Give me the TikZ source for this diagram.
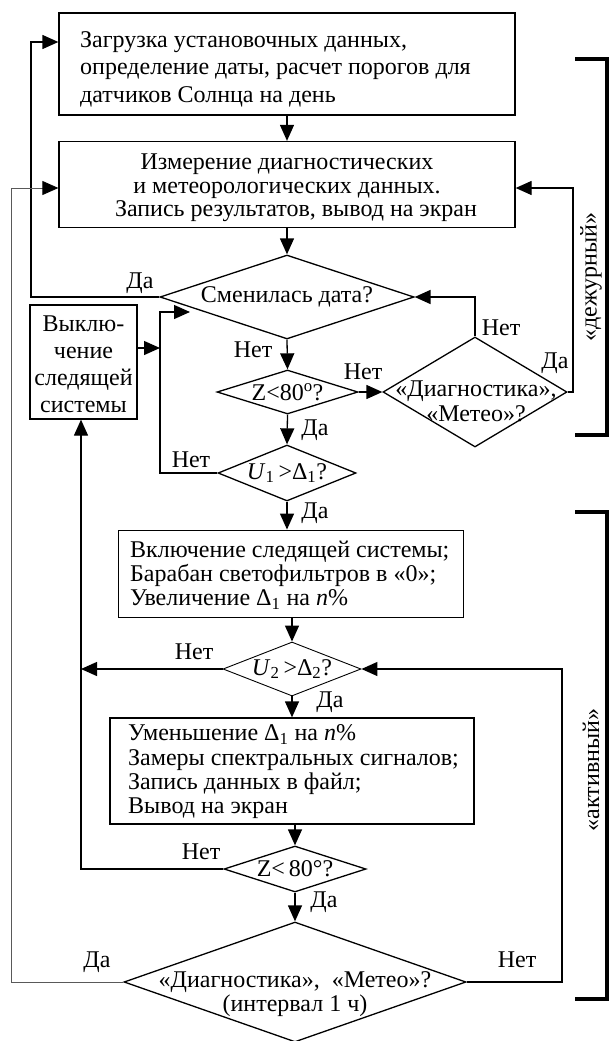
\documentclass[tikz,border=0pt]{standalone}
\usepackage{fontspec}
\setmainfont{Liberation Serif}
\usetikzlibrary{shapes.geometric,arrows.meta}
\begin{document}
\begin{tikzpicture}[x=1pt,y=-1pt,
  ln/.style={line width=1.3pt},
  arr/.style={ln,-{Triangle[length=16pt,width=14pt]}},
  box/.style={draw,ln,rectangle,inner sep=0pt},
  dia/.style={draw,ln,diamond,inner sep=0pt},
  txt/.style={inner sep=0pt,font=\fontsize{24}{27}\selectfont,align=center},
  lbl/.style={inner sep=0pt,font=\fontsize{24}{27}\selectfont},
  brk/.style={line width=4pt},
  grayline/.style={line width=0.8pt,draw=gray!70!black,-{Triangle[length=16pt,width=14pt,color=black,fill=black]}}
]
\useasboundingbox (0,0) rectangle (610,1041);
% routing coordinates
\coordinate (xa) at (31,0);
\coordinate (xg) at (11,0);
\coordinate (xv) at (160,0);
\coordinate (xz) at (81,0);
\coordinate (xr) at (573,0);
\coordinate (xn) at (562,0);
\coordinate (in1) at (190,312);

% boxes and diamonds
\node[box,minimum width=456pt,minimum height=102pt] (b1) at (287,64) {};
\node[lbl,anchor=west,align=left,font=\fontsize{24}{27.5}\selectfont] (t1) at (80,69) {Загрузка установочных данных,\\определение даты, расчет порогов для\\датчиков Солнца на день};

\node[box,minimum width=456pt,minimum height=86pt] (b2) at (287,184.5) {};
\node[txt,font=\fontsize{24}{23.5}\selectfont] (t2) at (287,188) {Измерение диагностических\\и метеорологических данных.\\\hspace*{18pt}Запись результатов, вывод на экран};

\node[dia,minimum width=254pt,minimum height=84pt] (d1) at (287,297) {};
\node[txt] (t3) at (d1) {Сменилась дата?};

\node[box,minimum width=107pt,minimum height=114pt] (bv) at (83.5,362) {};
\node[txt] (t4) at ([yshift=-2pt]bv.center) {Выклю-\\чение\\следящей\\системы};

\node[dia,minimum width=141pt,minimum height=44pt] (d2) at (287.5,392) {};
\node[txt] (t5) at (d2) {Z<80\textsuperscript{o}?};

\node[dia,minimum width=184pt,minimum height=110pt] (d3) at (475,392) {};
\node[txt,font=\fontsize{24}{25}\selectfont] (t6) at (476,401) {«Диагностика»,\\«Метео»?};

\node[dia,minimum width=138pt,minimum height=56pt] (d4) at (287,473) {};
\node[txt] (t7) at (d4) {\textit{U}\textsubscript{1}\,>Δ\textsubscript{1}?};

\node[box,line width=0.9pt,minimum width=345pt,minimum height=87pt] (b3) at (290.5,573.5) {};
\node[lbl,anchor=west,align=left,font=\fontsize{24}{24}\selectfont] (t8) at (130,575) {Включение следящей системы;\\Барабан светофильтров в «0»;\\Увеличение Δ\textsubscript{1} на \textit{n}\%};

\node[dia,line width=0.9pt,minimum width=138pt,minimum height=54pt] (d5) at (292,669) {};
\node[txt] (t9) at (d5) {\textit{U}\textsubscript{2}\,>Δ\textsubscript{2}?};

\node[box,minimum width=364pt,minimum height=106pt] (b4) at (292,771) {};
\node[lbl,anchor=west,align=left,font=\fontsize{24}{24.3}\selectfont] (t10) at (128,772) {Уменьшение Δ\textsubscript{1} на \textit{n}\%\\Замеры спектральных сигналов;\\Запись данных в файл;\\Вывод на экран};

\node[dia,minimum width=142pt,minimum height=46pt] (d6) at (295,869) {};
\node[txt] (t11) at (d6) {Z<\,80°?};

\node[dia,minimum width=342pt,minimum height=120pt] (d7) at (295,982) {};
\node[txt,font=\fontsize{24}{23.5}\selectfont] (t12) at (295,994) {«Диагностика»,\ \ «Метео»?\\(интервал 1 ч)};

% labels
\node[lbl] (l1) at (140,283) {Да};
\node[lbl] (l2) at (253,350) {Нет};
\node[lbl] (l3) at (363,372) {Нет};
\node[lbl] (l4) at (501,328) {Нет};
\node[lbl] (l5) at (555,363) {Да};
\node[lbl] (l6) at (315,430) {Да};
\node[lbl] (l7) at (191,460) {Нет};
\node[lbl] (l8) at (315,513) {Да};
\node[lbl] (l9) at (194,652) {Нет};
\node[lbl] (l10) at (330,702) {Да};
\node[lbl] (l11) at (201,852) {Нет};
\node[lbl] (l12) at (324,902) {Да};
\node[lbl] (l13) at (97,962) {Да};
\node[lbl] (l14) at (517,960) {Нет};

\node[lbl,rotate=90] (r1) at (591,277) {«дежурный»};
\node[lbl,rotate=90] (r2) at (591,770) {«активный»};

% connectors
\draw[arr] (b1.south) -- (b2.north);
\draw[arr] (b2.south) -- (d1.north);
\draw[arr] (d1.south) -- (d2.north);
\draw[arr] (d2.south) -- (d4.north);
\draw[arr] (d2.east) -- (d3.west);
\draw[arr,line width=1.8pt] (d3.north) |- (d1.east);
\draw[arr] (d3.east) -- (d3.east -| xr) |- ([yshift=-3.5pt]b2.east);
\draw[arr] (d1.west) -- (d1.west -| xa) |- ([yshift=22pt]b1.west);
\draw[grayline] (d7.west) -- (d7.west -| xg) |- ([yshift=-3.5pt]b2.west);
\draw[arr] (d4.west) -- (d4.west -| xv) |- (in1);
\draw[arr] ([yshift=14pt]bv.east) -- ([yshift=14pt]bv.east -| xv);
\draw[arr] (d4.south) -- (d4.south |- b3.north);
\draw[arr] (d5.north |- b3.south) -- (d5.north);
\draw[arr] (d5.south) -- (d5.south |- b4.north);
\draw[arr] (d5.west) -- (d5.west -| xz);
\draw[arr] (d6.north |- b4.south) -- (d6.north);
\draw[arr] (d6.south) -- (d7.north);
\draw[arr] (d6.west) -- (d6.west -| xz) -- (xz |- bv.south);
\draw[arr] (d7.east) -- (d7.east -| xn) |- (d5.east);

% brackets
\draw[brk] (575,59) -- (607,59) -- (607,435) -- (575,435);
\draw[brk] (575,512) -- (607,512) -- (607,999) -- (575,999);
\end{tikzpicture}
\end{document}
